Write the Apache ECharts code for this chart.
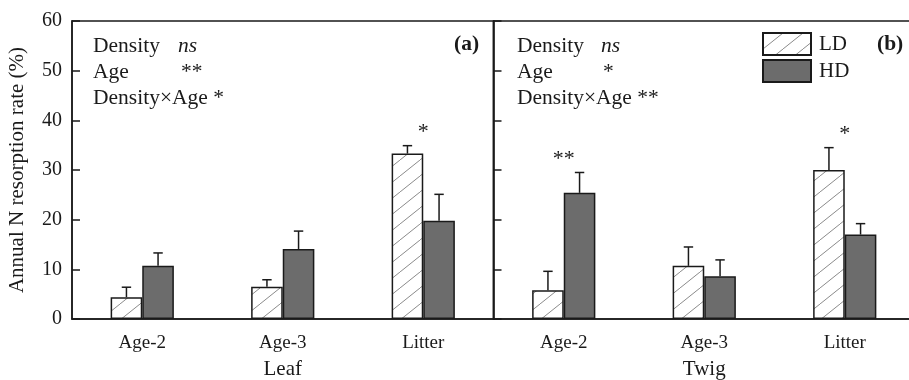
<!DOCTYPE html>
<html>
<head>
<meta charset="utf-8">
<script src="https://cdn.jsdelivr.net/npm/echarts@6/dist/echarts.min.js"></script>
<style>
  html, body { margin: 0; padding: 0; background: #fff; }
  #chart { width: 909px; height: 380px; }
</style>
</head>
<body>
<div id="chart"></div>
<script>
var categories = ['Age-2', 'Age-3', 'Litter'];
var yTicks = [0, 10, 20, 30, 40, 50, 60];

// Leaf panel (a)
var leafLD = [4.4, 6.5, 33.3];
var leafLDerr = [2.0, 1.4, 1.6];
var leafHD = [10.7, 14.1, 19.8];
var leafHDerr = [2.6, 3.6, 5.3];
var leafSig = ['', '', '*'];

// Twig panel (b)
var twigLD = [5.8, 10.7, 30.0];
var twigLDerr = [3.8, 3.8, 4.5];
var twigHD = [25.4, 8.6, 17.0];
var twigHDerr = [4.1, 3.3, 2.2];
var twigSig = ['**', '', '*'];

var font = 'Liberation Serif';
var ink = '#1a1a1a';
var barFrac = 0.225;

// diagonal hatch for LD bars
var hatch = document.createElement('canvas');
hatch.width = 20;
hatch.height = 16;
var hc = hatch.getContext('2d');
hc.fillStyle = '#fff';
hc.fillRect(0, 0, 20, 16);
hc.strokeStyle = '#8a8a8a';
hc.lineWidth = 1;
hc.beginPath();
hc.moveTo(-2, 17.6); hc.lineTo(22, -1.6);
hc.stroke();

var ldStyle = { color: { image: hatch, repeat: 'repeat' }, borderColor: ink, borderWidth: 1.5 };
var hdStyle = { color: '#6c6c6c', borderColor: ink, borderWidth: 1.5 };

function errData(means, errs, s) {
    return means.map(function (m, i) { return [i, m, m + errs[i], s]; });
}

function renderErr(params, api) {
    var base = api.coord([api.value(0), api.value(1)]);
    var top = api.coord([api.value(0), api.value(2)]);
    var bw = api.size([1, 0])[0] * barFrac;
    var cx = base[0] + (api.value(3) === 0 ? -bw / 2 : bw / 2);
    var st = { stroke: ink, lineWidth: 1.5 };
    return {
        type: 'group',
        children: [
            { type: 'line', shape: { x1: cx, y1: base[1], x2: cx, y2: top[1] }, style: st },
            { type: 'line', shape: { x1: cx - 4.7, y1: top[1], x2: cx + 4.7, y2: top[1] }, style: st }
        ]
    };
}

function sigData(ld, lde, hd, hde, sig) {
    return sig.map(function (s, i) {
        return [i, Math.max(ld[i] + lde[i], hd[i] + hde[i]), s];
    });
}

function renderSig(params, api) {
    var p = api.coord([api.value(0), api.value(1)]);
    return {
        type: 'text',
        style: {
            text: api.value(2),
            x: p[0], y: p[1] - 2,
            align: 'center', verticalAlign: 'bottom',
            font: '22px "' + font + '"', fill: ink
        }
    };
}

function xAxisFor(idx, name) {
    return {
        type: 'category', gridIndex: idx, data: categories,
        name: name, nameLocation: 'middle', nameGap: 40,
        nameTextStyle: { fontFamily: font, fontSize: 21, color: ink },
        axisLine: { lineStyle: { color: ink, width: 1.5 } },
        axisTick: { inside: true, length: 5, lineStyle: { color: ink, width: 1.5 } },
        axisLabel: { fontFamily: font, fontSize: 19, color: ink, margin: 15 },
        splitLine: { show: false }
    };
}

function yAxisFor(idx) {
    return {
        type: 'value', gridIndex: idx, min: yTicks[0], max: yTicks[yTicks.length - 1], interval: 10,
        name: idx === 0 ? 'Annual N resorption rate (%)' : '',
        nameLocation: 'middle', nameGap: 44, nameRotate: 90,
        nameTextStyle: { fontFamily: font, fontSize: 21, color: ink },
        axisLine: { show: true, lineStyle: { color: ink, width: 1.5 } },
        axisTick: { show: true, inside: true, length: 8, lineStyle: { color: ink, width: 1.5 } },
        axisLabel: { show: idx === 0, fontFamily: font, fontSize: 20, color: ink, margin: 10 },
        splitLine: { show: false }
    };
}

function txt(x, y, s, opts) {
    opts = opts || {};
    return {
        type: 'text', left: x, top: y, silent: true,
        style: {
            text: s,
            font: (opts.style || '') + ' ' + (opts.weight || '') + ' 21.5px "' + font + '"',
            fill: ink, textAlign: opts.align || 'left', textVerticalAlign: 'middle'
        }
    };
}

var chart = echarts.init(document.getElementById('chart'));
chart.setOption({
    animation: false,
    backgroundColor: '#fff',
    grid: [
        { left: 72, top: 21, width: 421.5, height: 298, outerBoundsMode: 'none', containLabel: false, show: true, borderColor: ink, borderWidth: 1.5 },
        { left: 493.5, top: 21, width: 421.5, height: 298, outerBoundsMode: 'none', containLabel: false, show: true, borderColor: ink, borderWidth: 1.5 }
    ],
    legend: {
        orient: 'vertical', left: 762, top: 32, padding: 0,
        icon: 'rect',
        itemWidth: 48, itemHeight: 22, itemGap: 3,
        data: ['LD', 'HD'],
        textStyle: { fontFamily: font, fontSize: 21, color: ink, padding: [0, 0, 0, 3] }
    },
    xAxis: [xAxisFor(0, 'Leaf'), xAxisFor(1, 'Twig')],
    yAxis: [yAxisFor(0), yAxisFor(1)],
    series: [
        { name: 'LD', type: 'bar', xAxisIndex: 0, yAxisIndex: 0, data: leafLD, barWidth: '22.5%', barGap: '0%', itemStyle: ldStyle },
        { name: 'HD', type: 'bar', xAxisIndex: 0, yAxisIndex: 0, data: leafHD, barWidth: '22.5%', barGap: '0%', itemStyle: hdStyle },
        { name: 'LD', type: 'bar', xAxisIndex: 1, yAxisIndex: 1, data: twigLD, barWidth: '22.5%', barGap: '0%', itemStyle: ldStyle },
        { name: 'HD', type: 'bar', xAxisIndex: 1, yAxisIndex: 1, data: twigHD, barWidth: '22.5%', barGap: '0%', itemStyle: hdStyle },
        { type: 'custom', xAxisIndex: 0, yAxisIndex: 0, renderItem: renderErr, data: errData(leafLD, leafLDerr, 0), z: 3 },
        { type: 'custom', xAxisIndex: 0, yAxisIndex: 0, renderItem: renderErr, data: errData(leafHD, leafHDerr, 1), z: 3 },
        { type: 'custom', xAxisIndex: 1, yAxisIndex: 1, renderItem: renderErr, data: errData(twigLD, twigLDerr, 0), z: 3 },
        { type: 'custom', xAxisIndex: 1, yAxisIndex: 1, renderItem: renderErr, data: errData(twigHD, twigHDerr, 1), z: 3 },
        { type: 'custom', xAxisIndex: 0, yAxisIndex: 0, renderItem: renderSig, data: sigData(leafLD, leafLDerr, leafHD, leafHDerr, leafSig) },
        { type: 'custom', xAxisIndex: 1, yAxisIndex: 1, renderItem: renderSig, data: sigData(twigLD, twigLDerr, twigHD, twigHDerr, twigSig) }
    ],
    graphic: [
        txt(93, 35, 'Density'), txt(178, 35, 'ns', { style: 'italic' }),
        txt(93, 61, 'Age'), txt(181, 61, '**'),
        txt(93, 87, 'Density\u00d7Age *'),
        txt(454, 33, '(a)', { weight: 'bold' }),
        txt(517, 35, 'Density'), txt(601, 35, 'ns', { style: 'italic' }),
        txt(517, 61, 'Age'), txt(603, 61, '*'),
        txt(517, 87, 'Density\u00d7Age **'),
        txt(877, 33, '(b)', { weight: 'bold' })
    ]
});
</script>
</body>
</html>
